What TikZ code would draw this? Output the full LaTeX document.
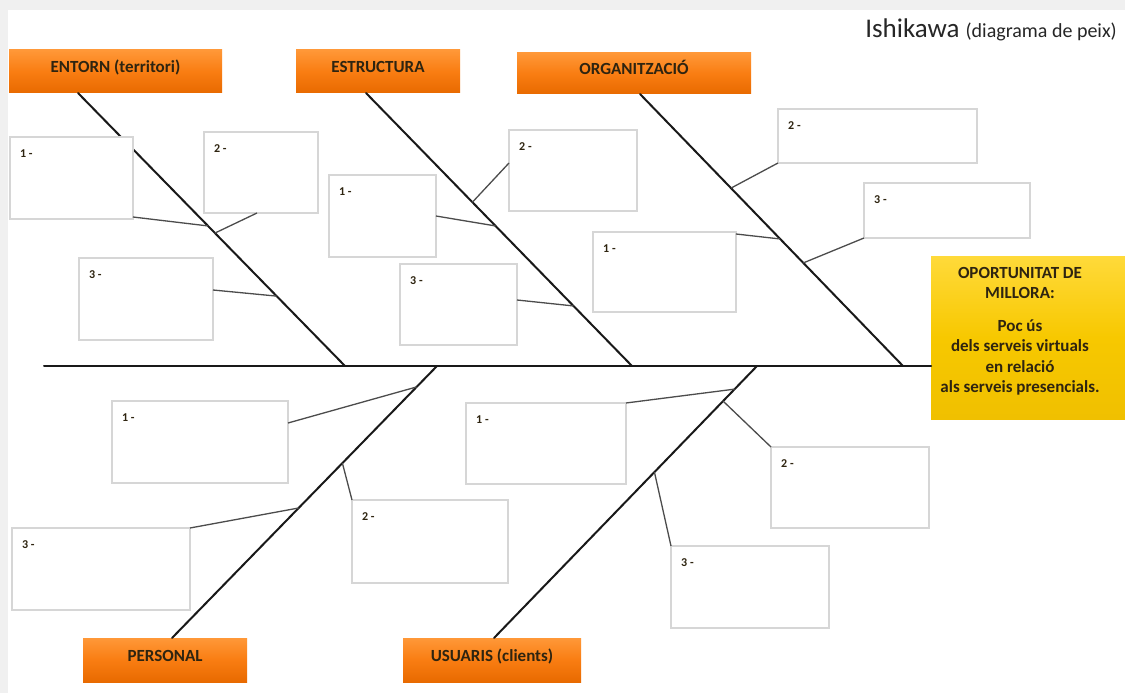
\documentclass[tikz,border=0pt]{standalone}
\usepackage{fontspec}
\setmainfont{Carlito}
\usetikzlibrary{calc}
\definecolor{orgA}{HTML}{FF9838}
\definecolor{orgB}{HTML}{F97D12}
\definecolor{orgC}{HTML}{E86A00}
\definecolor{ylA}{HTML}{FFDA3A}
\definecolor{ylB}{HTML}{F7C800}
\definecolor{ylC}{HTML}{F0C000}
\definecolor{boxline}{HTML}{D6D6D6}
\definecolor{txtdark}{HTML}{2E2410}
\definecolor{bandgray}{HTML}{F0F0F0}
\begin{document}
\begin{tikzpicture}[x=1pt,y=-1pt,
  hdr/.style={rectangle, top color=orgA, bottom color=orgC, middle color=orgB,
    font=\fontsize{17}{20}\selectfont\bfseries, text=txtdark,
    text height=12pt, text depth=10pt, inner sep=0pt, outer sep=0pt},
  yel/.style={rectangle, top color=ylA, bottom color=ylC, middle color=ylB,
    inner sep=0pt, outer sep=0pt},
  ytext/.style={font=\fontsize{17}{20.5}\selectfont\bfseries, text=txtdark,
    align=center, inner sep=0pt},
  cbox/.style={rectangle, draw=boxline, line width=1.3pt, fill=white,
    inner sep=0pt, outer sep=0pt},
  num/.style={font=\fontsize{12}{14}\selectfont\bfseries, text=txtdark,
    inner sep=0pt, anchor=base west},
  bone/.style={line width=2pt, black!90, line cap=round},
  twig/.style={line width=1.3pt, black!70},
  title/.style={inner sep=0pt, anchor=base east, text=black!85},
]
\useasboundingbox (0,0) rectangle (1125,693);
\fill[white] (0,0) rectangle (1125,693);
\fill[bandgray] (0,0) rectangle (1125,10);
\fill[bandgray] (0,0) rectangle (8,693);

% title
\node[title] (ttl) at (1117,38) {\fontsize{27}{30}\selectfont Ishikawa \fontsize{20}{23}\selectfont(diagrama de peix)};

% headers
\node[hdr, minimum width=213, minimum height=43] (ent) at (115.5,71.5) {ENTORN (territori)};
\node[hdr, minimum width=164, minimum height=43] (est) at (378,71.5) {ESTRUCTURA};
\node[hdr, minimum width=234, minimum height=41] (org) at (634,73.5) {ORGANITZACIÓ};
\node[hdr, minimum width=164, minimum height=44] (per) at (165,660) {PERSONAL};
\node[hdr, minimum width=178, minimum height=44] (usu) at (492,660) {USUARIS (clients)};

% effect box
\node[yel, minimum width=194, minimum height=163] (eff) at (1028,337.5) {};
\node[ytext] (efft) at (1020,331.5) {OPORTUNITAT DE\\MILLORA:\\[12pt]Poc ús\\dels serveis virtuals\\en relació\\als serveis presencials.};

% spine and bones
\coordinate (spL) at (44,366);
\draw[bone] (spL) -- (spL -| eff.west);
\coordinate (eT) at (78,93);   \coordinate (eB) at (345,366);
\coordinate (sT) at (366,93);  \coordinate (sB) at (632,366);
\coordinate (oT) at (640,94);  \coordinate (oB) at (903,366);
\coordinate (pT) at (437,366); \coordinate (pB) at (172,638);
\coordinate (uT) at (757,366); \coordinate (uB) at (494,638);
\draw[bone] (eT) -- (eB);
\draw[bone] (sT) -- (sB);
\draw[bone] (oT) -- (oB);
\draw[bone] (pT) -- (pB);
\draw[bone] (uT) -- (uB);

% cause boxes
\node[cbox, minimum width=123, minimum height=82] (e1) at (71.5,178) {};
\node[cbox, minimum width=114, minimum height=81] (e2) at (261,172.5) {};
\node[cbox, minimum width=134, minimum height=82] (e3) at (146,299) {};
\node[cbox, minimum width=107, minimum height=82] (s1) at (382.5,216) {};
\node[cbox, minimum width=128, minimum height=81] (s2) at (573,170.5) {};
\node[cbox, minimum width=117, minimum height=81] (s3) at (458.5,304.5) {};
\node[cbox, minimum width=143, minimum height=80] (o1) at (664.5,272) {};
\node[cbox, minimum width=199, minimum height=54] (o2) at (877.5,136) {};
\node[cbox, minimum width=166, minimum height=55] (o3) at (947,210.5) {};
\node[cbox, minimum width=176, minimum height=82] (p1) at (200,442) {};
\node[cbox, minimum width=156, minimum height=83] (p2) at (430,541.5) {};
\node[cbox, minimum width=178, minimum height=82] (p3) at (101,569) {};
\node[cbox, minimum width=160, minimum height=81] (u1) at (546,443.5) {};
\node[cbox, minimum width=158, minimum height=81] (u2) at (850,487.5) {};
\node[cbox, minimum width=158, minimum height=82] (u3) at (750,587) {};

% numbers
\foreach \b/\t in {e1/1,e2/2,e3/3,s1/1,s2/2,s3/3,o1/1,o2/2,o3/3,p1/1,p2/2,p3/3,u1/1,u2/2,u3/3}{
  \node[num] (\b n) at ([shift={(10,20)}]\b.north west) {\t\ -};
}

% twigs
\draw[twig] ([yshift=2pt]e1.south east) -- ($(eT)!0.487!(eB)$);
\draw[twig] ([xshift=-4pt]e2.south) -- ($(eT)!0.513!(eB)$);
\draw[twig] ([yshift=9pt]e3.east) -- ($(eT)!0.744!(eB)$);
\draw[twig] (s1.east) -- ($(sT)!0.487!(sB)$);
\draw[twig] ([yshift=7.5pt]s2.west) -- ($(sT)!0.40!(sB)$);
\draw[twig] ([yshift=4.5pt]s3.east) -- ($(sT)!0.780!(sB)$);
\draw[twig] ([yshift=-2pt]o1.north east) -- ($(oT)!0.533!(oB)$);
\draw[twig] (o2.south west) -- ($(oT)!0.346!(oB)$);
\draw[twig] (o3.south west) -- ($(oT)!0.621!(oB)$);
\draw[twig] ([yshift=19pt]p1.east) -- ($(pT)!0.077!(pB)$);
\draw[twig] (p2.north west) -- ($(pT)!0.357!(pB)$);
\draw[twig] (p3.north east) -- ($(pT)!0.522!(pB)$);
\draw[twig] (u1.north east) -- ($(uT)!0.085!(uB)$);
\draw[twig] (u2.north west) -- ($(uT)!0.129!(uB)$);
\draw[twig] (u3.north west) -- ($(uT)!0.390!(uB)$);
\end{tikzpicture}
\end{document}
